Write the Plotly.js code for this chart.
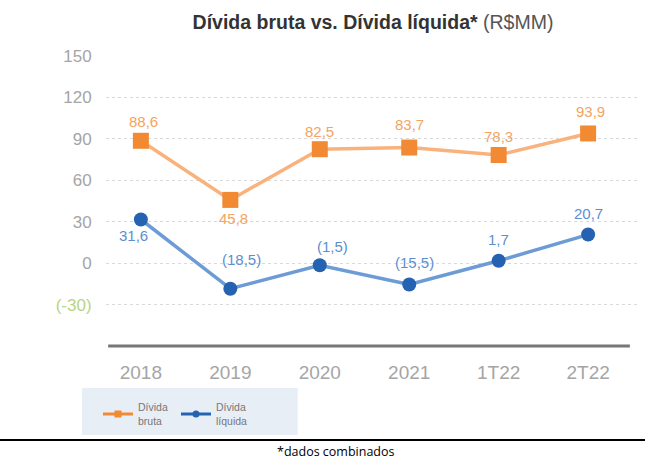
<!DOCTYPE html>
<html><head><meta charset="utf-8">
<script src="https://cdn.plot.ly/plotly-3.0.1.min.js"></script>
<style>html,body{margin:0;padding:0;background:#fff;}#chart{width:645px;height:459px;}</style>
</head><body><div id="chart"></div>
<script>
// ---- data ----
const categories = ["2018", "2019", "2020", "2021", "1T22", "2T22"];
const dividaBruta = [88.6, 45.8, 82.5, 83.7, 78.3, 93.9];
const dividaLiquida = [31.6, -18.5, -1.5, -15.5, 1.7, 20.7];
const brutaLabels = ["88,6", "45,8", "82,5", "83,7", "78,3", "93,9"];
const liquidaLabels = ["31,6", "(18,5)", "(1,5)", "(15,5)", "1,7", "20,7"];
const yTickVals = [-30, 0, 30, 60, 90, 120, 150];
const yTickText = ['<span style="color:#b9d47f">(-30)</span>', "0", "30", "60", "90", "120", "150"];

// ---- label offsets (style only) ----
const brutaShiftY = [19, -19, 18, 23, 19, 22];
const brutaShiftX = [3, 3, 0, 0, 0, 2];
const liquidaShiftY = [-16, 29, 19, 22, 21, 21];
const liquidaShiftX = [-7, 11, 13, 5, 0, 0];

const orange = "#f28a33", orangeLine = "#f9b27c", orangeText = "#f5a362";
const blue = "#2562b2", blueLine = "#6c9bd6", blueText = "#5b8fd1";

const traces = [
  {x: categories, y: dividaBruta, name: "Dívida bruta", type: "scatter", mode: "lines+markers", showlegend: false,
   line: {color: orangeLine, width: 3.5}, marker: {symbol: "square", size: 16, color: orange}},
  {x: categories, y: dividaLiquida, name: "Dívida líquida", type: "scatter", mode: "lines+markers", showlegend: false,
   line: {color: blueLine, width: 3.5}, marker: {symbol: "circle", size: 14, color: blue}},
  // legend entries (small symbols, as in the reference)
  {x: [categories[0]], y: [null], name: "Dívida<br>bruta", type: "scatter", mode: "lines+markers",
   line: {color: orange, width: 3}, marker: {symbol: "square", size: 7, color: orange}},
  {x: [categories[0]], y: [null], name: "Dívida<br>líquida", type: "scatter", mode: "lines+markers",
   line: {color: blue, width: 3}, marker: {symbol: "circle", size: 7, color: blue}}
];

const annotations = [];
categories.forEach((c, i) => {
  annotations.push({x: i, y: dividaBruta[i], xref: "x", yref: "y", text: brutaLabels[i], showarrow: false,
    yshift: brutaShiftY[i], xshift: brutaShiftX[i], font: {family: "Liberation Sans", size: 15, color: orangeText}});
  annotations.push({x: i, y: dividaLiquida[i], xref: "x", yref: "y", text: liquidaLabels[i], showarrow: false,
    yshift: liquidaShiftY[i], xshift: liquidaShiftX[i], font: {family: "Liberation Sans", size: 15, color: blueText}});
});
annotations.push({x: 0.43, y: -0.363, xref: "paper", yref: "paper", text: "*dados combinados", showarrow: false,
  xanchor: "center", yanchor: "middle", font: {family: "Open Sans", size: 12.5, color: "#000"}});

const layout = {
  width: 645, height: 459,
  margin: {l: 106, r: 5, t: 56, b: 113},
  paper_bgcolor: "#fff", plot_bgcolor: "#fff",
  title: {text: '<b>Dívida bruta vs. Dívida líquida*</b> <span style="color:#555">(R$MM)</span>',
    x: 0.5, xref: "paper", y: 0.952, yanchor: "middle",
    font: {family: "Liberation Sans", size: 19.5, color: "#333"}},
  xaxis: {type: "category", range: [-0.39, 5.58], showgrid: false, zeroline: false, showline: false,
    ticks: "outside", ticklen: 9, tickcolor: "rgba(0,0,0,0)",
    tickfont: {family: "Liberation Sans", size: 19, color: "#a5a5a5"}},
  yaxis: {range: [-60, 150], tickvals: yTickVals, ticktext: yTickText, showgrid: true,
    gridcolor: "#d9d9d9", griddash: "dot", gridwidth: 1, zeroline: false, showline: false,
    ticks: "outside", ticklen: 10, tickcolor: "rgba(0,0,0,0)",
    tickfont: {family: "Liberation Sans", size: 17, color: "#a5a5a5"}},
  showlegend: true,
  legend: {orientation: "h", x: -0.015, y: -0.165, xanchor: "left", yanchor: "top",
    bgcolor: "rgba(0,0,0,0)", font: {family: "Liberation Sans", size: 10.5, color: "#777"},
    entrywidth: 33, entrywidthmode: "pixels"},
  shapes: [
    {type: "rect", xref: "paper", yref: "paper", x0: -0.045, x1: 0.359, y0: -0.145, y1: -0.307,
     fillcolor: "#e8eef6", line: {width: 0}, layer: "below"},
    {type: "line", xref: "paper", yref: "paper", x0: 0.004, x1: 0.981, y0: 0, y1: 0,
     line: {color: "#777", width: 3}},
    {type: "line", xref: "paper", yref: "paper", x0: -0.2, x1: 1.01, y0: -0.324, y1: -0.324,
     line: {color: "#000", width: 2}}
  ],
  annotations: annotations
};

Plotly.newPlot("chart", traces, layout, {displayModeBar: false, staticPlot: true});
</script></body></html>
